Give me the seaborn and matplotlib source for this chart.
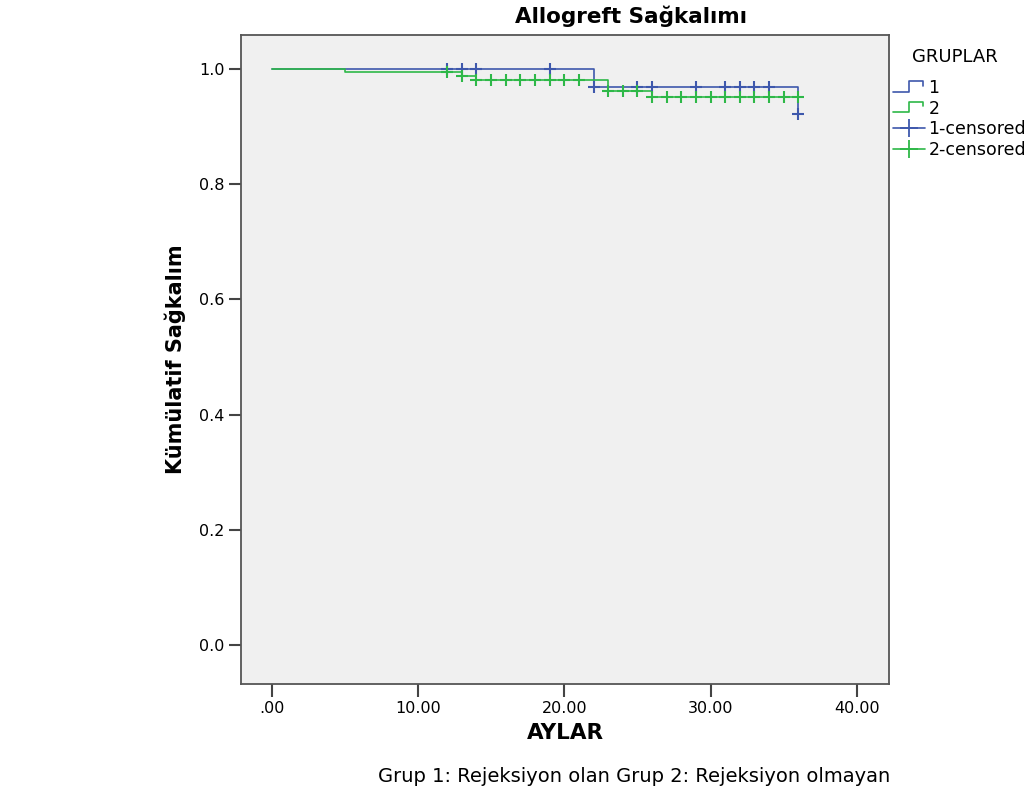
import numpy as np
import pandas as pd
import seaborn as sns
import matplotlib
matplotlib.use("Agg")
import matplotlib.pyplot as plt
from matplotlib.lines import Line2D
from matplotlib.legend_handler import HandlerBase

# Kaplan-Meier basamaklari
g1_ay = [0, 22, 36]
g1_surv = [1.0, 0.969, 0.922]
g1_cens = [12, 13, 14, 19, 22, 25, 26, 29, 31, 32, 33, 34, 36]

g2_ay = [0, 5, 13, 14, 23, 26, 36]
g2_surv = [1.0, 0.994, 0.988, 0.981, 0.961, 0.951, 0.951]
g2_cens = [12, 13, 14, 15, 16, 17, 18, 19, 20, 21, 23, 24, 25,
           26, 27, 28, 29, 30, 31, 32, 33, 34, 35, 36]

gruplar = ["1", "2"]
renkler = {"1": "#3E58AC", "2": "#2EB848"}
x_ticks = [0, 10, 20, 30, 40]
x_labels = [".00", "10.00", "20.00", "30.00", "40.00"]
y_ticks = [0.0, 0.2, 0.4, 0.6, 0.8, 1.0]


def sansur_y(ay, surv, cens):
    """Sansurlu noktalarin y degeri: o andaki basamak degeri."""
    idx = np.searchsorted(ay, cens, side="right") - 1
    return np.asarray(surv)[idx]


basamak = pd.concat([
    pd.DataFrame({"ay": g1_ay, "surv": g1_surv, "grup": "1"}),
    pd.DataFrame({"ay": g2_ay, "surv": g2_surv, "grup": "2"}),
])
sansur = pd.concat([
    pd.DataFrame({"ay": g1_cens, "surv": sansur_y(g1_ay, g1_surv, g1_cens), "grup": "1"}),
    pd.DataFrame({"ay": g2_cens, "surv": sansur_y(g2_ay, g2_surv, g2_cens), "grup": "2"}),
])

sns.set_style("white")
plt.rcParams["font.family"] = ["DejaVu Sans"]
plt.rcParams["text.color"] = "black"

fig = plt.figure(figsize=(10.28, 7.96), dpi=100)
ax = fig.add_axes([0.2344, 0.1407, 0.6304, 0.8153])
ax.set_facecolor("#F0F0F0")

sns.lineplot(data=basamak, x="ay", y="surv", hue="grup", palette=renkler,
             hue_order=gruplar, drawstyle="steps-post", estimator=None,
             linewidth=1.2, legend=False, ax=ax)
sns.scatterplot(data=sansur, x="ay", y="surv", hue="grup", palette=renkler,
                hue_order=gruplar, marker="+", s=75, linewidth=1.5,
                legend=False, ax=ax, zorder=3)

ax.set_xlim(-2.1, 42.2)
ax.set_ylim(-0.068, 1.059)
ax.set_xticks(x_ticks, x_labels)
ax.set_yticks(y_ticks, [f"{v:.1f}" for v in y_ticks])
ax.tick_params(axis="both", direction="out", length=9, width=1.5,
               color="#444444", labelsize=11.5, labelcolor="black", pad=3,
               bottom=True, left=True)
for sp in ax.spines.values():
    sp.set_color("#555555")
    sp.set_linewidth(1.3)

ax.set_xlabel("AYLAR", fontsize=15.5, fontweight="bold", labelpad=5, color="black")
ax.set_ylabel("Kümülatif Sağkalım", fontsize=15, fontweight="bold", labelpad=9, color="black")

fig.text(0.614, 1 - 27 / 796, "Allogreft Sağkalımı", fontsize=15.5,
         fontweight="bold", ha="center", va="bottom")
fig.text(0.3677, 1 - 777 / 796, "Grup 1: Rejeksiyon olan Grup 2: Rejeksiyon olmayan",
         fontsize=14, ha="left", va="center")
fig.text(912 / 1028, 1 - 57 / 796, "GRUPLAR", fontsize=13, ha="left", va="center")


class BasamakHandler(HandlerBase):
    """Lejantta basamak seklinde cizgi."""
    def create_artists(self, legend, orig_handle, xdescent, ydescent,
                       width, height, fontsize, trans):
        xs = np.array([0, 0.5, 0.5, 0.92, 0.92]) * width - xdescent
        ys = np.array([0.1, 0.1, 0.95, 0.95, 0.6]) * height - ydescent
        ln = Line2D(xs, ys, color=orig_handle.get_color(),
                    linewidth=orig_handle.get_linewidth(), transform=trans)
        return [ln]


h1 = Line2D([], [], color=renkler["1"], linewidth=1.2)
h2 = Line2D([], [], color=renkler["2"], linewidth=1.2)
h3 = Line2D([], [], color=renkler["1"], linewidth=1.2, marker="+", markersize=13, mew=1.3)
h4 = Line2D([], [], color=renkler["2"], linewidth=1.2, marker="+", markersize=13, mew=1.3)

fig.legend([h1, h2, h3, h4], ["1", "2", "1-censored", "2-censored"],
           loc="upper left", bbox_to_anchor=(893 / 1028, 1 - 79 / 796),
           frameon=False, fontsize=12.5, handlelength=1.85,
           handletextpad=0.2, labelspacing=0.15, borderaxespad=0, borderpad=0,
           handler_map={h1: BasamakHandler(), h2: BasamakHandler()})

fig.savefig("out.png", dpi=100, facecolor="white")
